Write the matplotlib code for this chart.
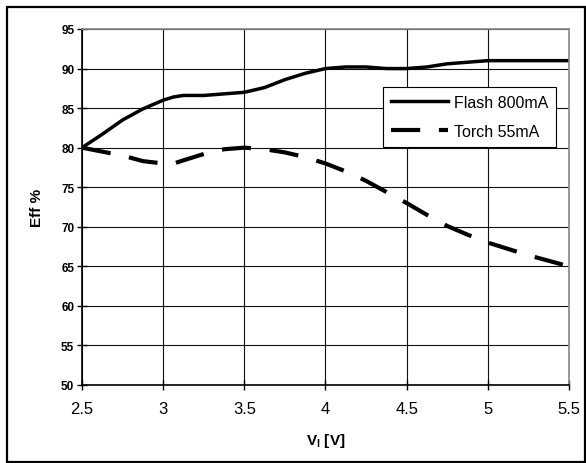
import matplotlib as mpl
import matplotlib.pyplot as plt

# Efficiency vs input voltage
flash_v = [2.5, 2.625, 2.75, 2.875, 3.0, 3.0625, 3.125, 3.25, 3.375, 3.5, 3.625, 3.75,
           3.875, 4.0, 4.125, 4.25, 4.375, 4.5, 4.625, 4.75, 4.875, 5.0, 5.25, 5.5]
flash_eff = [80, 81.7, 83.5, 84.9, 86.0, 86.4, 86.6, 86.6, 86.8, 87.0, 87.6, 88.6,
             89.4, 90.0, 90.2, 90.2, 90.0, 90.0, 90.2, 90.6, 90.8, 91.0, 91.0, 91.0]

torch_v = [2.5, 2.75, 2.875, 3.0, 3.05, 3.125, 3.25, 3.375, 3.5, 3.625, 3.75, 3.875,
           4.0, 4.125, 4.25, 4.375, 4.5, 4.625, 4.75, 4.875, 5.0, 5.125, 5.25, 5.375, 5.5]
torch_eff = [80, 79.0, 78.3, 78.0, 77.9, 78.4, 79.2, 79.8, 80.0, 79.8, 79.4, 78.8,
             78.0, 77.0, 75.8, 74.4, 73.0, 71.5, 70.1, 69.0, 68.0, 67.2, 66.4, 65.7, 65.0]

x_ticks = [2.5, 3, 3.5, 4, 4.5, 5, 5.5]
x_labels = ['2.5', '3', '3.5', '4', '4.5', '5', '5.5']
y_ticks = list(range(50, 96, 5))

mpl.rcParams['font.family'] = ['Liberation Sans', 'DejaVu Sans']
mpl.rcParams['mathtext.fontset'] = 'custom'
mpl.rcParams['mathtext.bf'] = 'Liberation Sans:bold'

W, H = 586, 464
fig = plt.figure(figsize=(W / 100, H / 100), dpi=100)
# outer frame
fig.patches.append(mpl.patches.Rectangle((7 / W, 1 / H), 578 / W, 455 / H, transform=fig.transFigure,
                                         fill=False, edgecolor='black', lw=1.6))
ax = fig.add_axes([82 / W, 1 - 386 / H, (569 - 82) / W, (386 - 30) / H])

ax.plot(flash_v, flash_eff, color='black', lw=2.5, label='Flash 800mA')
ax.plot(torch_v, torch_eff, color='black', lw=3.0, dashes=(7, 4.5), label='Torch 55mA')

ax.set_xlim(2.5, 5.5)
ax.set_ylim(50, 95)
ax.set_xticks(x_ticks)
ax.set_xticklabels(x_labels, fontsize=12)
ax.set_yticks(y_ticks)
ax.set_yticklabels([str(v) for v in y_ticks], fontsize=8.5, fontweight='bold')
ax.tick_params(axis='both', direction='inout', length=7, width=1, color='black')
ax.tick_params(axis='x', pad=8)
ax.tick_params(axis='y', pad=2)
ax.grid(True, color='#111111', lw=0.8)

for side in ['top', 'right']:
    ax.spines[side].set_color('#888888')
    ax.spines[side].set_linewidth(1.2)
ax.spines['left'].set_linewidth(1.2)
ax.spines['bottom'].set_linewidth(1.2)

ax.set_xlabel(r'V$_\mathbf{I}$ [V]', fontsize=11, fontweight='bold', labelpad=11)
ax.set_ylabel('Eff %', fontsize=11, fontweight='bold', labelpad=12)

leg = ax.legend(loc='upper left', bbox_to_anchor=((383 - 82) / 487, 1 - (88 - 30) / 356),
                fontsize=11.5, frameon=True, fancybox=False, handlelength=3.6, borderpad=0.5,
                labelspacing=0.85, handletextpad=0.35, borderaxespad=0)
leg.get_frame().set_edgecolor('black')
leg.get_frame().set_linewidth(0.8)
leg.get_frame().set_alpha(1)

plt.savefig('out.png', dpi=100)
